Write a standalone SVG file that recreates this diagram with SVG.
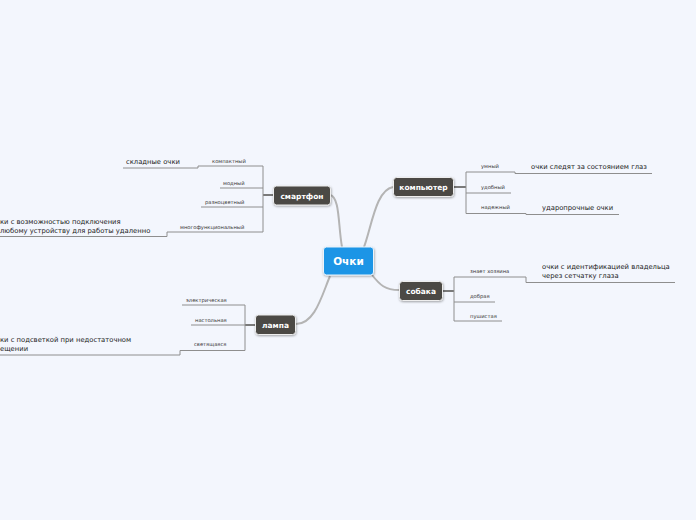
<svg xmlns="http://www.w3.org/2000/svg" width="696" height="520" viewBox="0 0 696 520">
<defs>
<filter id="sh" x="-20%" y="-30%" width="140%" height="170%"><feDropShadow dx="0.5" dy="1" stdDeviation="0.8" flood-color="#000" flood-opacity="0.35"/></filter>
</defs>
<style>
.bg{fill:#f3f6fd}
.main{fill:none;stroke:#b4b4b4;stroke-width:2}
.ln{fill:none;stroke:#8e8e8e;stroke-width:1}
.trunk{fill:none;stroke:#7a7a7a;stroke-width:2}
.node{fill:#4b4945;stroke:#eeeeee;stroke-width:1;filter:url(#sh)}
.ntx{font-family:"DejaVu Sans",sans-serif;font-weight:bold;font-size:7.5px;fill:#ffffff;text-anchor:middle}
.sm{font-family:"DejaVu Sans",sans-serif;font-size:5.2px;fill:#333333}
.tx{font-family:"DejaVu Sans",sans-serif;font-size:6.8px;fill:#222222}
</style>
<rect class="bg" width="696" height="520"/>
<g id="connectors">
<path class="main" d="M342,247 C338,225 340,197 330,195"/>
<path class="main" d="M364,247 C372,225 376,190 393,187"/>
<path class="main" d="M372,275 C380,285 385,290 399,290"/>
<path class="main" d="M330,276 C322,295 315,324 296,324"/>
<path class="trunk" d="M273,195 H263"/>
<path class="ln" d="M263,166 V232"/>
<path class="ln" d="M263,166 H198 V168 H123"/>
<path class="ln" d="M263,188 H220"/>
<path class="ln" d="M263,207 H201"/>
<path class="ln" d="M263,232 H167 V236.5 H0"/>
<path class="trunk" d="M454,187 H466"/>
<path class="ln" d="M466,172 V213.5"/>
<path class="ln" d="M466,172 H515 V173.5 H652"/>
<path class="ln" d="M466,193 H511"/>
<path class="ln" d="M466,213.5 H526 V214.5 H619"/>
<path class="trunk" d="M443,291 H454"/>
<path class="ln" d="M454,277 V321"/>
<path class="ln" d="M454,277 H526 V282.5 H675"/>
<path class="ln" d="M454,302 H495"/>
<path class="ln" d="M454,321 H502"/>
<path class="trunk" d="M255,325 H245"/>
<path class="ln" d="M245,305 V350.5"/>
<path class="ln" d="M245,305 H182"/>
<path class="ln" d="M245,325 H191"/>
<path class="ln" d="M245,350.5 H180 V355 H0"/>
</g>
<g id="center">
<rect x="323.5" y="247" width="50" height="28" rx="3" fill="#1b95e6" stroke="#eaf4fc" stroke-width="1" filter="url(#sh)"/>
<text x="348.5" y="265" font-family="DejaVu Sans,sans-serif" font-weight="bold" font-size="10.5px" fill="#ffffff" text-anchor="middle">Очки</text>
</g>
<g id="smartphone">
<rect class="node" x="273.5" y="186" width="57" height="19" rx="3"/>
<text class="ntx" x="302" y="198.5">смартфон</text>
<text class="sm" x="212" y="162.5">компактный</text>
<text class="tx" x="126" y="164">складные очки</text>
<text class="sm" x="223" y="184.5">модный</text>
<text class="sm" x="205" y="203.5">разноцветный</text>
<text class="sm" x="180" y="228.5">многофункциональный</text>
<text class="tx" x="0" y="223.5">ки с возможностью подключения</text>
<text class="tx" x="0" y="232.5">любому устройству для работы удаленно</text>
</g>
<g id="computer">
<rect class="node" x="393.5" y="177.5" width="60" height="19" rx="3"/>
<text class="ntx" x="423.5" y="190">компьютер</text>
<text class="sm" x="481" y="168">умный</text>
<text class="tx" x="531" y="169">очки следят за состоянием глаз</text>
<text class="sm" x="481" y="189">удобный</text>
<text class="sm" x="481" y="209">надежный</text>
<text class="tx" x="542" y="210">ударопрочные очки</text>
</g>
<g id="dog">
<rect class="node" x="399.5" y="281.5" width="43" height="19" rx="3"/>
<text class="ntx" x="421" y="294">собака</text>
<text class="sm" x="470" y="273">знает хозяина</text>
<text class="tx" x="542" y="269">очки с идентификацией владельца</text>
<text class="tx" x="542" y="278">через сетчатку глаза</text>
<text class="sm" x="470" y="298">добрая</text>
<text class="sm" x="470" y="317.5">пушистая</text>
</g>
<g id="lamp">
<rect class="node" x="255.5" y="315" width="40" height="19.5" rx="3"/>
<text class="ntx" x="275.5" y="327.5">лампа</text>
<text class="sm" x="186" y="302">электрическая</text>
<text class="sm" x="195" y="321.5">настольная</text>
<text class="sm" x="194" y="346">светящаяся</text>
<text class="tx" x="0" y="342">ки с подсветкой при недостаточном</text>
<text class="tx" x="0" y="351">ещении</text>
</g>
</svg>
